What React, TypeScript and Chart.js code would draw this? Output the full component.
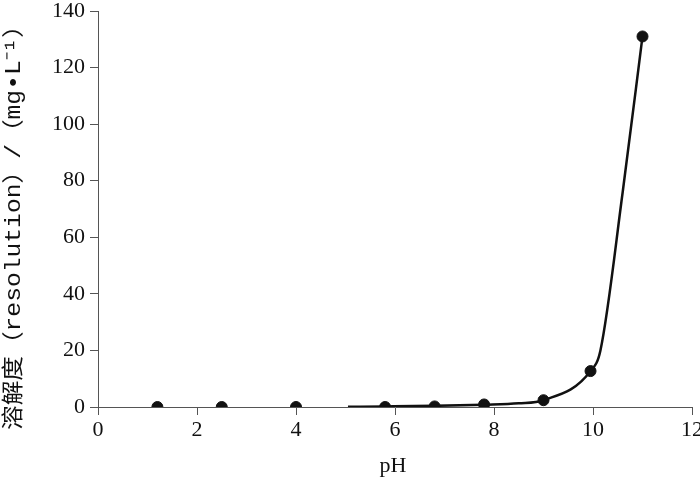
import React, { useEffect, useRef } from "react";
import { Chart, registerables } from "chart.js";

Chart.register(...registerables);

const measuredPH = [1.2, 2.5, 4.0, 5.8, 6.8, 7.8, 9.0, 9.95, 11.0];
const measuredSolubility = [0, 0, 0, 0, 0.2, 0.9, 2.4, 12.7, 131];

const curvePH = [5.05, 5.8, 6.8, 7.8, 8.5, 9.0, 9.95, 10.15, 10.6, 11.0];
const curveSolubility = [0.1, 0.2, 0.4, 0.8, 1.3, 2.4, 12.7, 20, 76, 131];

const xTicks = [0, 2, 4, 6, 8, 10, 12];
const yTicks = [0, 20, 40, 60, 80, 100, 120, 140];

const xTitle = "pH";
const yTitle = "溶解度（resolution）/（mg•L⁻¹）";

const tickFont = "'Liberation Serif'";
const titleFont = "'Liberation Mono', 'Noto Sans CJK SC'";

const titlePlugin = {
  id: "customTitles",
  afterDraw(chart: any) {
    const ctx = chart.ctx as CanvasRenderingContext2D;
    ctx.save();
    ctx.fillStyle = "#111";
    ctx.font = `22px ${titleFont}`;
    ctx.textAlign = "center";
    ctx.textBaseline = "middle";
    const w = ctx.measureText(yTitle).width;
    const target = 417;
    ctx.translate(14, 221.5);
    ctx.rotate(-Math.PI / 2);
    ctx.scale(target / w, 1);
    ctx.fillText(yTitle, 0, 0);
    ctx.restore();

    ctx.save();
    ctx.fillStyle = "#111";
    ctx.font = `22px ${tickFont}`;
    ctx.textAlign = "center";
    ctx.textBaseline = "middle";
    ctx.fillText(xTitle, 393, 466);
    ctx.restore();
  },
};

export default function App() {
  const ref = useRef<HTMLCanvasElement | null>(null);

  useEffect(() => {
    let chart: Chart | null = null;
    let cancelled = false;
    const make = () => {
      if (cancelled || !ref.current) return;
      const axisColor = "#555";
      chart = new Chart(ref.current, {
        type: "scatter",
        data: {
          datasets: [
            {
              label: "curve",
              data: curvePH.map((x, i) => ({ x, y: curveSolubility[i] })),
              showLine: true,
              borderColor: "#111",
              borderWidth: 2.5,
              pointRadius: 0,
              cubicInterpolationMode: "monotone",
              fill: false,
            } as any,
            {
              label: "measured",
              data: measuredPH.map((x, i) => ({ x, y: measuredSolubility[i] })),
              showLine: false,
              backgroundColor: "#111",
              borderColor: "#111",
              borderWidth: 1,
              pointRadius: 5.5,
            },
          ],
        },
        options: {
          animation: false,
          responsive: false,
          maintainAspectRatio: false,
          layout: { padding: { left: 0, top: 11, right: 8, bottom: 0 } },
          plugins: {
            legend: { display: false },
            tooltip: { enabled: false },
          },
          scales: {
            x: {
              type: "linear",
              min: 0,
              max: 12,
              afterBuildTicks: (s: any) => {
                s.ticks = xTicks.map((v) => ({ value: v }));
              },
              afterFit: (s: any) => {
                s.height = 71;
                s.paddingLeft = 0;
                s.paddingRight = 0;
              },
              grid: {
                display: true,
                drawOnChartArea: false,
                drawTicks: true,
                tickLength: 8,
                color: axisColor,
                lineWidth: 1,
              },
              border: { display: true, color: axisColor, width: 1 },
              ticks: {
                color: "#111",
                font: { family: tickFont, size: 22 },
                padding: 2,
                maxRotation: 0,
              },
            },
            y: {
              type: "linear",
              min: 0,
              max: 140,
              afterBuildTicks: (s: any) => {
                s.ticks = yTicks.map((v) => ({ value: v }));
              },
              afterFit: (s: any) => {
                s.width = 98;
                s.paddingTop = 0;
                s.paddingBottom = 0;
              },
              grid: {
                display: true,
                drawOnChartArea: false,
                drawTicks: true,
                tickLength: 8,
                color: axisColor,
                lineWidth: 1,
              },
              border: { display: true, color: axisColor, width: 1 },
              ticks: {
                color: "#111",
                font: { family: tickFont, size: 22 },
                padding: 5,
              },
            },
          },
        },
        plugins: [titlePlugin],
      });
    };
    const loads = [
      "22px 'Liberation Serif'",
      "22px 'Liberation Mono'",
      "22px 'Noto Sans CJK SC'",
    ].map((f) => (document as any).fonts.load(f, "溶0pH").catch(() => null));
    Promise.all(loads).then(make, make);
    return () => {
      cancelled = true;
      if (chart) chart.destroy();
    };
  }, []);

  return (
    <div style={{ position: "fixed", left: 0, top: 0, width: 700, height: 478, background: "#fff" }}>
      <canvas ref={ref} width={700} height={478} style={{ width: 700, height: 478 }} />
    </div>
  );
}
